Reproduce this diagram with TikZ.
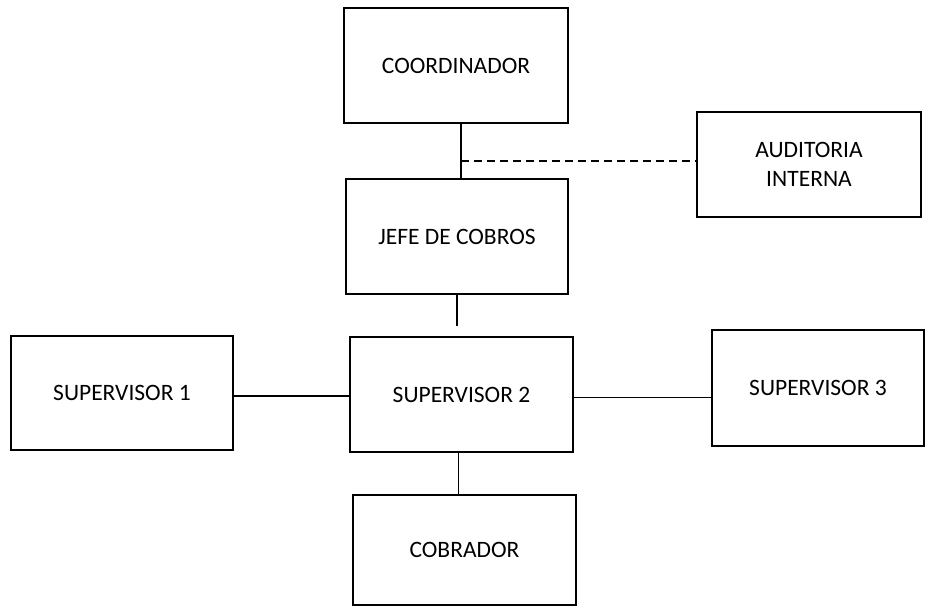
\documentclass[tikz,border=0pt]{standalone}
\usepackage{fontspec}
\setmainfont{Carlito}
\usetikzlibrary{calc}

\tikzset{
  unidad/.style = {draw, line width = 1.5pt, align = center, inner sep = 0pt,
    font = \fontsize{23.5}{29}\selectfont},
  enlace/.style = {line width = 1.5pt},
  staff/.style = {line width = 1.5pt, dash pattern = on 8pt off 5pt}
}

\begin{document}
\begin{tikzpicture}[x = 1pt, y = -1pt]
  \useasboundingbox (0,0) rectangle (927,608);

  \node[unidad, minimum width = 224pt, minimum height = 115pt] (coord) at (456,65.5) {COORDINADOR};
  \node[unidad, minimum width = 224pt, minimum height = 105pt] (audit) at (809,164.5) {AUDITORIA\\INTERNA};
  \node[unidad, minimum width = 222pt, minimum height = 115pt] (jefe) at (457,236.5) {JEFE DE COBROS};
  \node[unidad, minimum width = 222pt, minimum height = 114pt] (sup1) at (122,393) {SUPERVISOR 1};
  \node[unidad, minimum width = 223pt, minimum height = 115pt] (sup2) at (461.5,394.5) {SUPERVISOR 2};
  \node[unidad, minimum width = 212pt, minimum height = 116pt] (sup3) at (818,388) {SUPERVISOR 3};
  \node[unidad, minimum width = 223pt, minimum height = 110pt] (cobr) at (464.5,550) {COBRADOR};

  \coordinate (arriba) at ([xshift = 5pt]coord.south);
  \coordinate (abajo) at ([xshift = 4pt]jefe.north);
  \coordinate (union) at ($(arriba)!0.68!(abajo)$);
  \coordinate (corte) at ([yshift = -31pt]jefe.south);
  \coordinate (izq) at ([yshift = -3pt]sup1.east);
  \coordinate (der) at ([yshift = -3pt]sup2.east);

  \draw[enlace] (arriba) -- (abajo);
  \draw[staff] (union) -- (union -| audit.west);
  \draw[enlace] (jefe.south) -- (corte);
  \draw[enlace] (izq) -- (izq -| sup2.west);
  \draw[enlace] (der) -- (der -| sup3.west);
  \draw[enlace] ([xshift = -3pt]sup2.south) -- ([xshift = -3pt]sup2.south |- cobr.north);
\end{tikzpicture}
\end{document}
